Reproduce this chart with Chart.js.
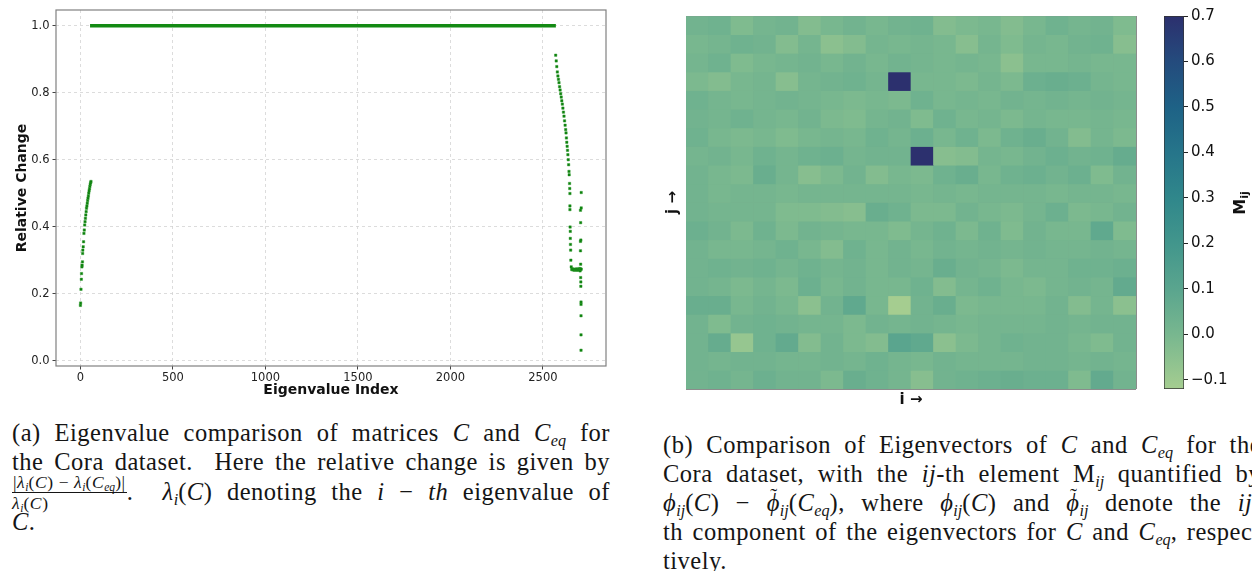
<!DOCTYPE html>
<html><head><meta charset="utf-8">
<script src="https://cdn.jsdelivr.net/npm/chart.js@4/dist/chart.umd.min.js"></script>
<style>
html,body{margin:0;padding:0;background:#fff;width:1252px;height:571px;overflow:hidden;position:relative;}
canvas{position:absolute;}
.cap{position:absolute;font-family:"Liberation Serif",serif;font-size:24.5px;letter-spacing:0.5px;color:#151515;width:598px;}
.ln{position:absolute;left:0;width:598px;text-align:justify;text-align-last:justify;height:29px;line-height:29px;}
.ln.last{text-align-last:left;}
i{font-style:italic;}
sub{font-size:0.66em;vertical-align:-0.28em;line-height:0;letter-spacing:0;}
.frac{display:inline-block;vertical-align:middle;text-align:center;font-size:17.5px;line-height:18px;margin-top:-4px;letter-spacing:0.6px;}
.num{display:block;border-bottom:1px solid #151515;padding:0 1px 1px 1px;}
.den{display:block;padding-top:1px;}
.tl{position:relative;display:inline-block;line-height:29px;}
.td{position:absolute;left:0.18em;top:-6px;line-height:29px;font-size:0.85em;font-style:normal;}
#mij{position:absolute;left:1215px;top:192px;width:50px;height:22px;text-align:center;font-family:"DejaVu Sans",sans-serif;font-weight:bold;font-size:16px;line-height:22px;color:#111;transform:rotate(-90deg);}
#mij sub{font-size:0.7em;}
</style>
</head>
<body>
<canvas id="left" width="620" height="410" style="left:0;top:0"></canvas>
<canvas id="hm" width="500" height="410" style="left:640px;top:0"></canvas>
<canvas id="cb" width="102" height="410" style="left:1150px;top:0"></canvas>
<div id="mij">M<sub>ij</sub></div>

<div class="cap" style="left:12px;top:0">
  <div class="ln" style="top:418px">(a) Eigenvalue comparison of matrices <i>C</i> and <i>C<sub>eq</sub></i> for</div>
  <div class="ln" style="top:447px">the Cora dataset.&nbsp; Here the relative change is given by</div>
  <div class="ln" style="top:477px"><span class="frac"><span class="num">|<i>λ<sub>i</sub></i>(<i>C</i>) − <i>λ<sub>i</sub></i>(<i>C<sub>eq</sub></i>)|</span><span class="den"><i>λ<sub>i</sub></i>(<i>C</i>)</span></span>. &nbsp;<i>λ<sub>i</sub></i>(<i>C</i>) denoting the <i>i</i> − <i>th</i> eigenvalue of</div>
  <div class="ln last" style="top:507px"><i>C</i>.</div>
</div>

<div class="cap" style="left:663px;top:0">
  <div class="ln" style="top:430px">(b) Comparison of Eigenvectors of <i>C</i> and <i>C<sub>eq</sub></i> for the</div>
  <div class="ln" style="top:459px">Cora dataset, with the <i>ij</i>-th element M<sub><i>ij</i></sub> quantified by</div>
  <div class="ln" style="top:488px"><i>ϕ<sub>ij</sub></i>(<i>C</i>) − <i class="tl">ϕ<span class="td">˜</span></i><i><sub>ij</sub></i>(<i>C<sub>eq</sub></i>), where <i>ϕ<sub>ij</sub></i>(<i>C</i>) and <i class="tl">ϕ<span class="td">˜</span></i><i><sub>ij</sub></i> denote the <i>ij</i>-</div>
  <div class="ln" style="top:517px">th component of the eigenvectors for <i>C</i> and <i>C<sub>eq</sub></i>, respec-</div>
  <div class="ln last" style="top:546px">tively.</div>
</div>

<script>
// ---------- (a) eigenvalue relative change ----------
const riseIdx = [0, 1, 3, 5, 6, 8, 9, 11, 12, 13, 15, 17, 19, 21, 23, 25, 27, 29, 31, 33, 35, 37, 39, 41, 43, 45, 47, 49, 51, 53, 55, 57];
const riseVal = [0.165, 0.172, 0.213, 0.243, 0.26, 0.28, 0.285, 0.295, 0.32, 0.33, 0.34, 0.355, 0.38, 0.39, 0.405, 0.415, 0.425, 0.435, 0.445, 0.455, 0.462, 0.47, 0.478, 0.485, 0.492, 0.5, 0.507, 0.513, 0.52, 0.526, 0.531, 0.535];
const plateauIdx = [52, 2570];
const plateauVal = [1.0, 1.0];
const fallIdx = [2569, 2572, 2575, 2578, 2581, 2584, 2587, 2590, 2593, 2596, 2599, 2602, 2605, 2608, 2611, 2614, 2617, 2620, 2623, 2625, 2627, 2629, 2631, 2633, 2635, 2637, 2639, 2641, 2642, 2644, 2645, 2646, 2646, 2646, 2647, 2648, 2648, 2649, 2650, 2651];
const fallVal = [0.912, 0.895, 0.878, 0.862, 0.85, 0.84, 0.83, 0.818, 0.808, 0.797, 0.787, 0.776, 0.766, 0.754, 0.742, 0.73, 0.716, 0.703, 0.69, 0.68, 0.665, 0.652, 0.64, 0.628, 0.615, 0.6, 0.585, 0.565, 0.555, 0.529, 0.514, 0.499, 0.462, 0.451, 0.399, 0.386, 0.365, 0.347, 0.33, 0.3];
const clusterIdx = [2653, 2656, 2659, 2662, 2665, 2668, 2671, 2674, 2677, 2680, 2683, 2686, 2689, 2692, 2695, 2698, 2701, 2704, 2707];
const clusterVal = [0.28, 0.272, 0.274, 0.271, 0.273, 0.272, 0.27, 0.273, 0.271, 0.272, 0.274, 0.27, 0.272, 0.271, 0.273, 0.275, 0.272, 0.274, 0.273];
const tailIdx = [2707, 2707, 2703, 2704, 2705, 2703, 2703, 2704, 2701, 2704, 2705, 2705, 2706, 2706, 2706, 2706, 2706];
const tailVal = [0.502, 0.456, 0.449, 0.412, 0.36, 0.356, 0.328, 0.288, 0.268, 0.248, 0.235, 0.222, 0.175, 0.168, 0.134, 0.077, 0.031];
const xTicks = [0, 500, 1000, 1500, 2000, 2500];
const yTicks = [0.0, 0.2, 0.4, 0.6, 0.8, 1.0];

// ---------- (b) eigenvector comparison M_ij (rows j top->bottom, columns i) ----------
const heatRows = [
 [0.02, 0.03, -0.02, 0.01, 0.02, -0.03, 0.00, 0.02, 0.00, 0.02, 0.03, -0.03, -0.01, 0.00, -0.03, 0.00, 0.03, 0.01, 0.02, -0.02],
 [0.00, 0.01, 0.03, 0.02, -0.03, 0.01, -0.05, -0.03, 0.01, 0.00, 0.01, 0.00, -0.04, 0.01, -0.02, 0.01, 0.00, 0.02, 0.03, -0.04],
 [0.01, 0.03, -0.02, 0.00, 0.01, 0.02, 0.00, 0.02, 0.00, 0.02, 0.01, 0.00, 0.01, 0.00, -0.05, 0.00, 0.00, 0.01, 0.00, 0.00],
 [-0.01, -0.03, 0.00, 0.01, -0.04, 0.01, 0.02, 0.03, 0.01, 0.70, 0.00, 0.00, -0.01, 0.01, -0.01, 0.04, 0.05, 0.04, 0.01, 0.00],
 [0.03, 0.01, 0.00, 0.01, 0.02, 0.01, 0.00, -0.01, 0.00, -0.01, 0.03, 0.00, 0.01, 0.00, 0.02, 0.01, 0.02, 0.01, 0.02, 0.01],
 [0.02, 0.01, 0.03, 0.01, 0.00, 0.02, -0.01, -0.02, 0.01, 0.02, -0.02, 0.03, 0.00, 0.01, -0.01, 0.01, 0.00, 0.00, 0.01, 0.00],
 [0.03, 0.00, -0.01, 0.00, -0.02, 0.00, 0.01, 0.00, 0.03, 0.01, 0.04, 0.00, 0.03, -0.01, 0.03, 0.05, 0.02, -0.03, 0.01, -0.01],
 [0.01, 0.02, 0.00, 0.03, 0.01, 0.03, 0.04, 0.01, 0.02, 0.02, 0.70, -0.04, -0.03, 0.01, 0.00, 0.02, 0.04, 0.02, 0.03, 0.06],
 [0.02, 0.00, -0.01, 0.05, 0.01, -0.04, -0.01, 0.02, -0.03, 0.00, -0.01, 0.03, 0.05, 0.00, 0.03, 0.04, 0.02, 0.04, -0.02, 0.02],
 [0.02, 0.00, 0.01, 0.01, 0.00, 0.01, 0.01, 0.01, 0.01, 0.01, 0.00, 0.01, 0.00, 0.01, 0.01, 0.01, 0.00, 0.01, 0.01, 0.00],
 [0.02, 0.01, 0.01, 0.01, -0.02, -0.02, -0.03, -0.04, 0.05, 0.03, -0.01, -0.01, 0.02, 0.00, -0.01, 0.01, 0.04, -0.01, 0.00, 0.02],
 [0.04, 0.02, -0.01, 0.03, -0.01, 0.02, 0.01, 0.00, 0.00, -0.02, 0.01, 0.03, -0.01, 0.03, -0.02, 0.02, 0.00, 0.00, 0.08, -0.02],
 [0.02, 0.00, 0.00, 0.01, 0.03, 0.00, -0.03, 0.03, 0.00, 0.02, 0.00, 0.02, 0.01, 0.02, 0.01, 0.02, 0.01, 0.01, 0.02, 0.01],
 [0.02, 0.03, 0.02, 0.03, 0.01, 0.03, 0.01, 0.02, 0.00, 0.02, 0.01, 0.05, 0.02, 0.01, -0.01, 0.01, 0.01, 0.03, 0.03, 0.04],
 [0.02, 0.01, -0.01, 0.01, -0.01, 0.04, 0.00, 0.02, 0.00, 0.00, 0.03, -0.03, 0.01, 0.03, 0.00, -0.01, 0.01, 0.02, 0.01, 0.07],
 [0.05, 0.05, 0.00, 0.02, 0.00, -0.05, 0.02, 0.08, 0.00, -0.12, 0.02, 0.05, -0.01, 0.00, 0.00, 0.00, 0.02, -0.03, 0.01, -0.05],
 [0.02, -0.02, 0.02, 0.03, 0.02, 0.01, 0.01, -0.01, 0.02, 0.01, 0.02, 0.01, 0.00, 0.01, 0.01, 0.01, 0.02, 0.01, 0.02, 0.02],
 [0.02, 0.06, -0.08, 0.03, 0.07, -0.03, 0.02, -0.01, -0.03, 0.10, 0.08, -0.05, -0.01, 0.01, 0.03, 0.02, 0.02, 0.00, -0.02, 0.02],
 [0.02, 0.01, 0.02, 0.02, 0.01, 0.01, 0.02, 0.01, 0.03, 0.01, 0.00, 0.02, 0.01, 0.01, 0.01, 0.02, 0.02, 0.01, 0.02, 0.01],
 [0.02, 0.03, 0.01, 0.04, 0.02, 0.02, -0.01, 0.05, 0.03, 0.01, -0.04, 0.02, 0.03, 0.04, 0.05, 0.04, 0.04, -0.02, 0.07, 0.02]
];
const colLabels = ['0','1','2','3','4','5','6','7','8','9','10','11','12','13','14','15','16','17','18','19'];
const cbTicks = [-0.1, 0.0, 0.1, 0.2, 0.3, 0.4, 0.5, 0.6, 0.7];
const cbMin = -0.12, cbMax = 0.70;

// crest-like colormap (sampled from the reference colorbar)
const crestStops = [[0,[165,205,144]],[0.146,[120,183,143]],[0.268,[90,165,142]],[0.39,[66,150,140]],[0.512,[48,135,139]],[0.634,[38,117,138]],[0.756,[30,98,134]],[0.878,[36,75,125]],[1,[44,48,110]]];
function crest(v){
  let t = (v - cbMin) / (cbMax - cbMin);
  t = Math.max(0, Math.min(1, t));
  for (let k = 1; k < crestStops.length; k++) {
    const [t1, c1] = crestStops[k];
    if (t <= t1) {
      const [t0, c0] = crestStops[k-1];
      const f = (t - t0) / (t1 - t0);
      const c = c0.map((a, n) => Math.round(a + (c1[n] - a) * f));
      return `rgb(${c[0]},${c[1]},${c[2]})`;
    }
  }
  return 'rgb(44,48,110)';
}

const pts = (xs, ys) => xs.map((x, k) => ({x, y: ys[k]}));
const dotStyle = {pointStyle:'rect', pointRadius:1.7, backgroundColor:'#0b7f0b', borderColor:'rgba(40,150,40,0.55)', borderWidth:0.8, showLine:false};

const framePlugin = {id:'frame', afterDatasetsDraw(ch){
  const {ctx, chartArea:a} = ch;
  ctx.save(); ctx.strokeStyle = '#808080'; ctx.lineWidth = 1.2;
  ctx.strokeRect(a.left, a.top, a.right - a.left, a.bottom - a.top);
  ctx.restore();
}};

const tickFont = {family:'DejaVu Sans', size:11.5};
const titleFont = {family:'DejaVu Sans', size:14, weight:'bold'};

new Chart(document.getElementById('left'), {
  type:'scatter',
  data:{datasets:[
    {type:'line', data:pts(plateauIdx, plateauVal), borderColor:'#138a13', borderWidth:3.4, pointRadius:0, fill:false},
    Object.assign({data:pts(riseIdx, riseVal)}, dotStyle),
    Object.assign({data:pts(fallIdx, fallVal)}, dotStyle),
    Object.assign({data:pts(clusterIdx, clusterVal)}, dotStyle),
    Object.assign({data:pts(tailIdx, tailVal)}, dotStyle)
  ]},
  options:{
    responsive:false, animation:false,
    plugins:{legend:{display:false}, tooltip:{enabled:false}},
    layout:{padding:{top:10, right:14, left:0, bottom:0}},
    scales:{
      x:{type:'linear', min:-132, max:2841,
        afterBuildTicks:s=>{s.ticks = xTicks.map(v=>({value:v}));},
        afterFit:s=>{s.height = 44;},
        grid:{color:'#d4d4d4', lineWidth:0.8, tickColor:'#444', tickLength:3.5, tickWidth:1, tickBorderDash:[]},
        border:{display:false, dash:[3,3]},
        ticks:{font:tickFont, color:'#222', padding:2, maxRotation:0, callback:v=>String(v)},
        title:{display:true, text:'Eigenvalue Index', font:titleFont, color:'#111', padding:{top:0,bottom:11}}
      },
      y:{type:'linear', min:-0.016, max:1.047,
        afterBuildTicks:s=>{s.ticks = yTicks.map(v=>({value:v}));},
        afterFit:s=>{s.width = 56;},
        grid:{color:'#d4d4d4', lineWidth:0.8, tickColor:'#444', tickLength:3.5, tickWidth:1, tickBorderDash:[]},
        border:{display:false, dash:[3,3]},
        ticks:{font:tickFont, color:'#222', padding:3, callback:v=>Number(v).toFixed(1)},
        title:{display:true, text:'Relative Change', font:titleFont, color:'#111', padding:{top:13.5,bottom:0}}
      }
    }
  },
  plugins:[framePlugin]
});

// heatmap
new Chart(document.getElementById('hm'), {
  type:'bar',
  data:{labels:colLabels, datasets:heatRows.map((row, j)=>({
    label:'j'+j, data:row.map(()=>1), backgroundColor:row.map(crest),
    borderWidth:0, barPercentage:1, categoryPercentage:1, stack:'s'
  }))},
  options:{
    responsive:false, animation:false,
    plugins:{legend:{display:false}, tooltip:{enabled:false}},
    layout:{padding:{top:16, right:4, left:0, bottom:0}},
    scales:{
      x:{stacked:true, z:1,
        grid:{color:'#8c8c8c', lineWidth:1, offset:true, drawTicks:false},
        border:{display:false},
        ticks:{display:false},
        afterFit:s=>{s.height = 21;},
        title:{display:true, text:'i →', font:{family:'DejaVu Sans', size:15, weight:'bold'}, color:'#111', padding:{top:0,bottom:1}}
      },
      y:{stacked:true, reverse:true, min:0, max:20, z:1,
        grid:{color:'#8c8c8c', lineWidth:1, drawTicks:false},
        border:{display:false},
        ticks:{display:false, stepSize:1},
        afterFit:s=>{s.width = 46;},
        title:{display:true, text:'j →', font:{family:'DejaVu Sans', size:15, weight:'bold'}, color:'#111', padding:{top:24,bottom:0}}
      }
    }
  }
});

// colorbar
const fmt = v => (v < -1e-9 ? '−' + Math.abs(v).toFixed(1) : Math.abs(v).toFixed(1));
new Chart(document.getElementById('cb'), {
  type:'bar',
  data:{labels:['M'], datasets:[{
    data:[[cbMin, cbMax]],
    backgroundColor:(ctx)=>{
      const ch = ctx.chart; if (!ch.chartArea) return '#6aa';
      const y = ch.scales.y;
      const g = ch.ctx.createLinearGradient(0, y.getPixelForValue(cbMin), 0, y.getPixelForValue(cbMax));
      crestStops.forEach(([t, c])=>g.addColorStop(t, `rgb(${c[0]},${c[1]},${c[2]})`));
      return g;
    },
    borderColor:'#333', borderWidth:1, borderSkipped:false, barPercentage:1, categoryPercentage:1
  }]},
  options:{
    responsive:false, animation:false,
    plugins:{legend:{display:false}, tooltip:{enabled:false}},
    layout:{padding:{top:16, left:14, bottom:21, right:0}},
    scales:{
      x:{display:false},
      y:{position:'right', min:cbMin, max:cbMax,
        afterBuildTicks:s=>{s.ticks = cbTicks.map(v=>({value:v}));},
        afterFit:s=>{s.width = 68;},
        grid:{drawOnChartArea:false, drawTicks:true, tickLength:4, tickColor:'#222', tickWidth:1},
        border:{display:false},
        ticks:{font:{family:'DejaVu Sans', size:15}, color:'#111', padding:3, callback:v=>fmt(v)}
      }
    }
  }
});
</script>
</body></html>
